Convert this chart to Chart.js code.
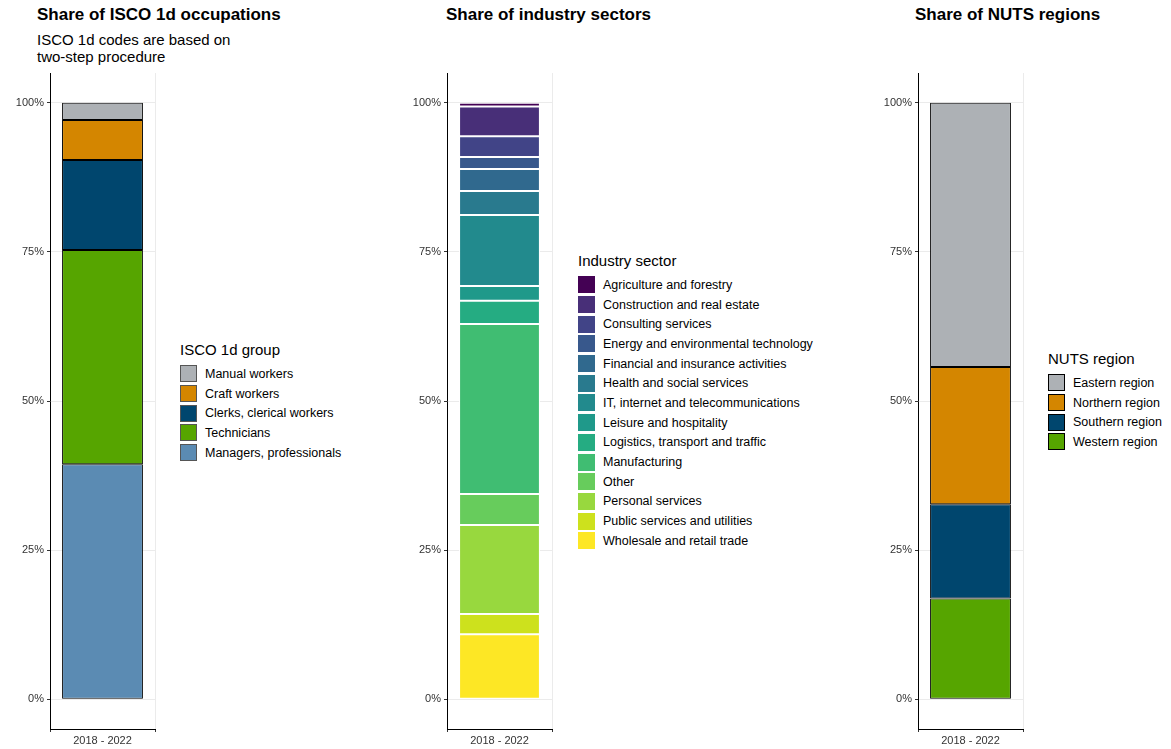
<!DOCTYPE html>
<html lang="en">
<head>
<meta charset="UTF-8">
<title>Shares</title>
<script src="https://cdn.jsdelivr.net/npm/chart.js"></script>
<style>
  body { margin: 0; width: 1171px; height: 749px; position: relative; font-family: Arial, "Liberation Sans", sans-serif; background: #fff; overflow: hidden; }
  canvas { position: absolute; }
  .title { position: absolute; font-weight: bold; font-size: 17px; top: 5px; }
  .sub { position: absolute; font-size: 15px; top: 31px; line-height: 17px; }
  .legend { position: absolute; font-size: 12.5px; }
  .legend .lt { font-size: 15px; margin-bottom: 6px; }
  .legend .it { display: flex; align-items: center; height: 19.7px; }
  .legend .sw { width: 17px; height: 17px; box-sizing: border-box; margin-right: 8px; }
</style>
</head>
<body>
<div class="title" style="left:37px">Share of ISCO 1d occupations</div>
<div class="sub" style="left:37px">ISCO 1d codes are based on<br>two-step procedure</div>
<div class="title" style="left:446px">Share of industry sectors</div>
<div class="title" style="left:915px">Share of NUTS regions</div>

<canvas id="c1"></canvas>
<canvas id="c2"></canvas>
<canvas id="c3"></canvas>
<div class="legend" id="l1" style="left:180px;top:341px"></div>
<div class="legend" id="l2" style="left:578px;top:252px"></div>
<div class="legend" id="l3" style="left:1048px;top:350px"></div>

<script>
const period = ["2018 - 2022"];

// bottom to top
const iscoLabels = ["Managers, professionals", "Technicians", "Clerks, clerical workers", "Craft workers", "Manual workers"];
const iscoValues = [0.394, 0.359, 0.151, 0.067, 0.029];
const iscoColors = ["#5B8BB3", "#56A500", "#00466E", "#D48600", "#ADB1B5"];

const sectorLabels = ["Wholesale and retail trade", "Public services and utilities", "Personal services", "Other",
  "Manufacturing", "Logistics, transport and traffic", "Leisure and hospitality", "IT, internet and telecommunications",
  "Health and social services", "Financial and insurance activities", "Energy and environmental technology",
  "Consulting services", "Construction and real estate", "Agriculture and forestry"];
const sectorValues = [0.109, 0.034, 0.149, 0.052, 0.285, 0.039, 0.025, 0.119, 0.040, 0.037, 0.020, 0.035, 0.050, 0.006];
const sectorColors = ["#FDE725", "#CDE11D", "#98D83E", "#67CC5C", "#40BD72", "#25AC82", "#1F998A", "#228A8D",
  "#297A8E", "#30698E", "#38588C", "#414487", "#482F78", "#440154"];

const nutsLabels = ["Western region", "Southern region", "Northern region", "Eastern region"];
const nutsValues = [0.169, 0.158, 0.230, 0.443];
const nutsColors = ["#56A500", "#00466E", "#D48600", "#ADB1B5"];

function makeChart(id, axisX, labels, values, colors, border) {
  const cv = document.getElementById(id);
  const w = 110, h = 689;
  cv.style.left = (axisX - 50) + "px";
  cv.style.top = "60px";
  cv.style.width = (w + 50) + "px";
  cv.style.height = h + "px";
  cv.width = w + 50; cv.height = h;
  new Chart(cv, {
    type: "bar",
    data: {
      labels: period,
      datasets: labels.map((l, i) => ({
        label: l, data: [values[i]], backgroundColor: colors[i],
        borderColor: border, borderWidth: 1, borderSkipped: false,
        barPercentage: 0.77, categoryPercentage: 1
      }))
    },
    options: {
      responsive: false, animation: false,
      layout: { padding: { top: 13, right: 5 } },
      plugins: { legend: { display: false }, tooltip: { enabled: false } },
      scales: {
        x: {
          stacked: true,
          grid: { color: "#EBEBEB", drawTicks: true, tickLength: 3, tickColor: "#333" },
          border: { color: "#000", width: 1 },
          ticks: { color: "#333", font: { size: 11, family: "Arial" }, padding: 2 },
          afterFit: s => { s.height = 20; }
        },
        y: {
          stacked: true, min: -0.05, max: 1.05,
          afterBuildTicks: s => { s.ticks = [0, 0.25, 0.5, 0.75, 1].map(v => ({ value: v })); },
          grid: { color: "#EBEBEB", tickLength: 3, tickColor: "#333" },
          border: { color: "#000", width: 1 },
          ticks: { color: "#333", font: { size: 11, family: "Arial" }, padding: 3,
            callback: v => Math.round(v * 100) + "%" },
          afterFit: s => { s.width = 50; }
        }
      }
    }
  });
}

function makeLegend(id, title, labels, colors, border) {
  const el = document.getElementById(id);
  let html = '<div class="lt">' + title + '</div>';
  for (let i = labels.length - 1; i >= 0; i--) {
    html += '<div class="it"><span class="sw" style="background:' + colors[i] +
      (border ? ';border:1px solid ' + border : '') + '"></span>' + labels[i] + '</div>';
  }
  el.innerHTML = html;
}

makeChart("c1", 50, iscoLabels, iscoValues, iscoColors, "#000");
makeChart("c2", 447, sectorLabels, sectorValues, sectorColors, "#fff");
makeChart("c3", 918, nutsLabels, nutsValues, nutsColors, "#000");
makeLegend("l1", "ISCO 1d group", iscoLabels, iscoColors, "#555");
makeLegend("l2", "Industry sector", sectorLabels, sectorColors, null);
makeLegend("l3", "NUTS region", nutsLabels, nutsColors, "#000");
</script>
</body>
</html>
